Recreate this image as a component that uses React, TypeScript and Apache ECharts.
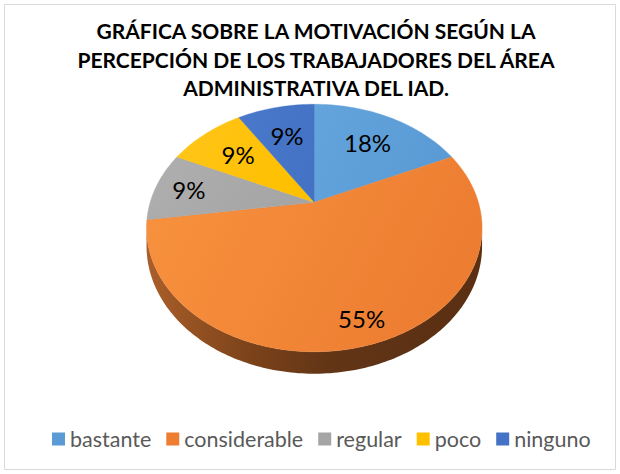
import React, { useEffect, useRef } from 'react';
import * as echarts from 'echarts';

const categories = ['bastante', 'considerable', 'regular', 'poco', 'ninguno'];
const values = [2, 6, 1, 1, 1];
const titleText = 'GRÁFICA SOBRE LA MOTIVACIÓN SEGÚN LA\nPERCEPCIÓN DE LOS TRABAJADORES DEL ÁREA\nADMINISTRATIVA DEL IAD.';

// styles
const colors = ['#5B9BD5', '#ED7D31', '#A5A5A5', '#FFC000', '#4472C4'];
const lightColors = ['#64a4dd', '#f8933f', '#afafaf', '#ffc51a', '#4a79cb'];
const labelRadius = [0.67, 0.85, 0.79, 0.67, 0.67];

// tilted pie geometry (perspective projection of a disc)
const CX = 314.3;
const CY = 202.3;
const AX = 164.1;
const BY = 118.4;
const PK = 0.2078;
const DEPTH = 17.4;

function proj(theta: number, r: number, drop: number): number[] {
  const d = 1 + PK * r * Math.cos(theta);
  return [CX + (AX * r * Math.sin(theta)) / d, CY - (BY * r * Math.cos(theta)) / d + drop / d];
}

function makeRender(i: number) {
  return (params: any, api: any) => {
    const total = values.reduce((a, b) => a + b, 0);
    const before = values.slice(0, i).reduce((a, b) => a + b, 0);
    const v = Number(api.value(0));
    const s = (before / total) * Math.PI * 2;
    const e = ((before + v) / total) * Math.PI * 2;
    const n = Math.max(4, Math.ceil((e - s) / (Math.PI / 180)));
    const arc: number[][] = [];
    for (let j = 0; j <= n; j++) arc.push(proj(s + ((e - s) * j) / n, 1, 0));
    const children: any[] = [];
    const topFill = new echarts.graphic.LinearGradient(0, 0, 1, 0.3, [
      { offset: 0, color: lightColors[i] },
      { offset: 1, color: colors[i] },
    ]);
    children.push({
      type: 'polygon',
      z2: 10,
      shape: { points: [[CX, CY], ...arc] },
      style: { fill: topFill, stroke: colors[i], lineWidth: 0.4 },
    });
    const ta = Math.acos(-PK);
    const tb = Math.PI * 2 - ta;
    const a = Math.max(s, ta);
    const b = Math.min(e, tb);
    if (b > a) {
      const m = Math.max(4, Math.ceil((b - a) / (Math.PI / 180)));
      const topEdge: number[][] = [];
      const botEdge: number[][] = [];
      for (let j = 0; j <= m; j++) {
        const t = a + ((b - a) * j) / m;
        topEdge.push(proj(t, 1, 0));
        botEdge.push(proj(t, 1, DEPTH));
      }
      botEdge.reverse();
      children.push({
        type: 'polygon',
        z2: 1,
        shape: { points: [...topEdge, ...botEdge] },
        style: {
          fill: new echarts.graphic.LinearGradient(0, 0, 1, 0, [
            { offset: 0, color: '#aa5f2a' },
            { offset: 0.3, color: '#7d431a' },
            { offset: 0.55, color: '#613516' },
            { offset: 1, color: '#5a2f12' },
          ]),
        },
      });
    }
    const mid = (s + e) / 2;
    const p = proj(mid, labelRadius[i], 0);
    children.push({
      type: 'text',
      z2: 20,
      x: p[0],
      y: p[1],
      style: {
        text: Math.round((v / total) * 100) + '%',
        fontFamily: 'Lato',
        fontSize: 24,
        fill: '#000',
        textAlign: 'center',
        textVerticalAlign: 'middle',
      },
    });
    return { type: 'group', children };
  };
}

export default function App() {
  const ref = useRef<HTMLDivElement>(null);
  useEffect(() => {
    document.body.style.margin = '0';
    if (!ref.current) return;
    const chart = echarts.init(ref.current, undefined, { renderer: 'svg' });
    chart.setOption({
      animation: false,
      backgroundColor: '#ffffff',
      legend: {
        data: categories,
        left: 47,
        top: 421,
        icon: 'rect',
        itemWidth: 13,
        itemHeight: 13,
        itemGap: 15,
        textStyle: { fontFamily: 'Lato', fontSize: 21.5, color: '#595959', lineHeight: 26 },
      },
      graphic: [
        {
          type: 'rect',
          shape: { x: 4.5, y: 4.5, width: 611, height: 465 },
          style: { fill: 'none', stroke: '#d9d9d9', lineWidth: 1 },
          silent: true,
        },
        {
          type: 'text',
          x: 316,
          y: 16,
          style: {
            text: titleText,
            fontFamily: 'Lato',
            fontWeight: 'bold',
            fontSize: 21,
            lineHeight: 28.7,
            fill: '#000',
            textAlign: 'center',
            textVerticalAlign: 'top',
          },
        },
      ],
      series: categories.map((name, i) => ({
        type: 'custom',
        name,
        coordinateSystem: 'none',
        itemStyle: { color: colors[i] },
        data: [[values[i]]],
        renderItem: makeRender(i),
      })),
    });
    return () => chart.dispose();
  }, []);
  return <div ref={ref} style={{ width: 620, height: 474 }} />;
}
